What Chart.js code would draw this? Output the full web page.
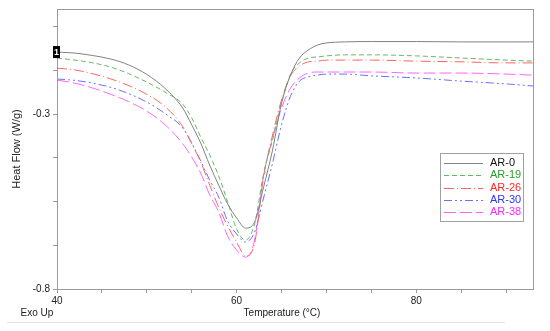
<!DOCTYPE html>
<html>
<head>
<meta charset="utf-8">
<script src="https://cdn.jsdelivr.net/npm/chart.js@4"></script>
<style>
	html, body { margin: 0; padding: 0; background: #fff; }
	#wrap { width: 550px; height: 331px; }
</style>
</head>
<body>
<div id="wrap"><canvas id="dsc-chart" width="550" height="331"></canvas></div>
<script>
// temperatures (°C) sampled along the curves
const temps = [40, 42, 44, 46, 48, 50, 52, 54, 55, 56, 57, 58, 59, 60, 61, 62, 63, 64, 65, 66, 67, 68, 69, 70, 72, 75, 80, 85, 90, 93];

// heat flow (W/g) per sample
const ar0 = [-0.123, -0.126, -0.133, -0.143, -0.160, -0.187, -0.226, -0.283, -0.331, -0.383, -0.446, -0.503, -0.557, -0.597, -0.626, -0.609, -0.509, -0.403, -0.269, -0.189, -0.140, -0.117, -0.103, -0.097, -0.094, -0.093, -0.093, -0.094, -0.094, -0.094];
const ar19 = [-0.140, -0.146, -0.154, -0.166, -0.185, -0.209, -0.237, -0.272, -0.311, -0.366, -0.417, -0.477, -0.551, -0.629, -0.660, -0.614, -0.471, -0.374, -0.269, -0.186, -0.154, -0.140, -0.137, -0.134, -0.131, -0.131, -0.134, -0.140, -0.146, -0.149];
const ar26 = [-0.169, -0.174, -0.185, -0.200, -0.219, -0.244, -0.278, -0.336, -0.385, -0.437, -0.503, -0.566, -0.620, -0.666, -0.706, -0.669, -0.480, -0.360, -0.260, -0.191, -0.163, -0.151, -0.149, -0.146, -0.146, -0.146, -0.149, -0.151, -0.154, -0.154];
const ar30 = [-0.200, -0.204, -0.212, -0.224, -0.242, -0.266, -0.298, -0.340, -0.383, -0.434, -0.489, -0.537, -0.606, -0.643, -0.666, -0.637, -0.540, -0.440, -0.331, -0.249, -0.206, -0.194, -0.189, -0.186, -0.186, -0.191, -0.197, -0.206, -0.214, -0.220];
const ar38 = [-0.203, -0.212, -0.226, -0.244, -0.265, -0.292, -0.330, -0.385, -0.423, -0.469, -0.531, -0.580, -0.649, -0.689, -0.709, -0.660, -0.477, -0.369, -0.283, -0.226, -0.197, -0.183, -0.180, -0.180, -0.180, -0.180, -0.183, -0.183, -0.186, -0.189];

const series_names = ['AR-0', 'AR-19', 'AR-26', 'AR-30', 'AR-38'];
const series_values = [ar0, ar19, ar26, ar30, ar38];

// axis ticks
const x_ticks = [40, 45, 50, 55, 60, 65, 70, 75, 80, 85, 90];
const x_tick_labels = [40, 60, 80];
const y_ticks = [-0.8, -0.675, -0.55, -0.425, -0.3, -0.175, -0.05];
const y_tick_labels = [-0.3, -0.8];

const line_colors = ['rgb(130,130,130)', 'rgb(100,185,100)', 'rgb(255,100,100)', 'rgb(110,110,255)', 'rgb(255,100,255)'];
const text_colors = ['#111', 'rgb(40,160,40)', 'rgb(255,40,40)', 'rgb(50,50,255)', 'rgb(255,40,255)'];
const dashes = [[], [5, 3], [10, 3, 1, 3], [8, 3, 2, 3, 2, 3], [12, 4]];

const FONT = '"Liberation Sans", Arial, sans-serif';

const datasets = series_names.map(function(name, i) {
	return {
		label: name,
		data: temps.map((t, j) => ({ x: t, y: series_values[i][j] })),
		borderColor: line_colors[i],
		borderDash: dashes[i],
		borderWidth: 1,
		pointRadius: 0,
		cubicInterpolationMode: 'monotone',
		fill: false,
	};
});

// box round the plot, inset legend, the "1" marker and the bottom texts
const decorations = {
	id: 'decorations',
	afterDraw(chart) {
		const ctx = chart.ctx;
		const area = chart.chartArea;
		ctx.save();

		ctx.strokeStyle = '#9a9a9a';
		ctx.lineWidth = 1;
		ctx.strokeRect(area.left + 0.5, area.top + 0.5, area.right - area.left, area.bottom - area.top);

		// faint frame line at the foot of the figure
		ctx.strokeStyle = '#e4e4e4';
		ctx.beginPath();
		ctx.moveTo(7, 322.5);
		ctx.lineTo(505, 322.5);
		ctx.stroke();

		// legend
		const lx = area.right - 93;
		const ly = area.top + 144;
		ctx.strokeStyle = '#a0a0a0';
		ctx.strokeRect(lx + 0.5, ly + 0.5, 83, 68);
		ctx.font = '11px ' + FONT;
		ctx.textBaseline = 'middle';
		ctx.textAlign = 'left';
		chart.data.datasets.forEach(function(ds, i) {
			const y = ly + 10 + i * 12.3;
			ctx.strokeStyle = ds.borderColor;
			ctx.setLineDash(ds.borderDash);
			ctx.beginPath();
			ctx.moveTo(lx + 4, Math.round(y) + 0.5);
			ctx.lineTo(lx + 43, Math.round(y) + 0.5);
			ctx.stroke();
			ctx.setLineDash([]);
			ctx.fillStyle = text_colors[i];
			ctx.fillText(ds.label, lx + 50, y);
		});

		// "1" marker at the start of AR-0
		const meta = chart.getDatasetMeta(0);
		const p = meta.data[0];
		ctx.fillStyle = '#000';
		ctx.fillRect(p.x - 4, p.y - 6, 7, 12);
		ctx.fillStyle = '#fff';
		ctx.font = 'bold 9px ' + FONT;
		ctx.textAlign = 'center';
		ctx.fillText('1', p.x - 0.5, p.y);

		// bottom texts
		ctx.fillStyle = '#222';
		ctx.font = '10px ' + FONT;
		ctx.fillText('Exo Up', 37, area.bottom + 24);
		ctx.fillText('Temperature (°C)', area.left + 225, area.bottom + 24);
		ctx.restore();
	},
};

var dsc_chart_ctx = document.getElementById('dsc-chart').getContext('2d');
var dsc_chart = new Chart(dsc_chart_ctx, {
	type: 'line',
	data: { datasets: datasets },
	options: {
		responsive: false,
		animation: false,
		events: [],
		layout: {
			padding: { left: 0, right: 17, top: 8, bottom: 0 },
		},
		plugins: {
			legend: { display: false },
			tooltip: { enabled: false },
		},
		scales: {
			x: {
				type: 'linear',
				min: 40,
				max: 93,
				afterBuildTicks: (scale) => {
					scale.ticks = x_ticks.map(v => ({ value: v }));
				},
				afterFit: (scale) => {
					scale.height = 42;
				},
				ticks: {
					autoSkip: false,
					maxRotation: 0,
					padding: 2,
					color: '#222',
					font: { family: FONT, size: 10 },
					callback: (v) => x_tick_labels.includes(v) ? String(v) : '',
				},
				grid: {
					drawOnChartArea: false,
					tickLength: 4,
					color: '#999',
				},
				border: { color: '#9a9a9a' },
			},
			y: {
				min: -0.8,
				max: 0,
				afterBuildTicks: (scale) => {
					scale.ticks = y_ticks.map(v => ({ value: v }));
				},
				afterFit: (scale) => {
					scale.width = 57;
				},
				ticks: {
					autoSkip: false,
					padding: 3,
					color: '#222',
					font: { family: FONT, size: 10 },
					callback: (v) => y_tick_labels.includes(v) ? String(v) : '',
				},
				grid: {
					drawOnChartArea: false,
					tickLength: 4,
					color: '#999',
				},
				border: { color: '#9a9a9a' },
				title: {
					display: true,
					text: 'Heat Flow (W/g)',
					color: '#222',
					font: { family: FONT, size: 11 },
					padding: { top: 10, bottom: 0 },
				},
			},
		},
	},
	plugins: [decorations],
});
</script>
</body>
</html>
